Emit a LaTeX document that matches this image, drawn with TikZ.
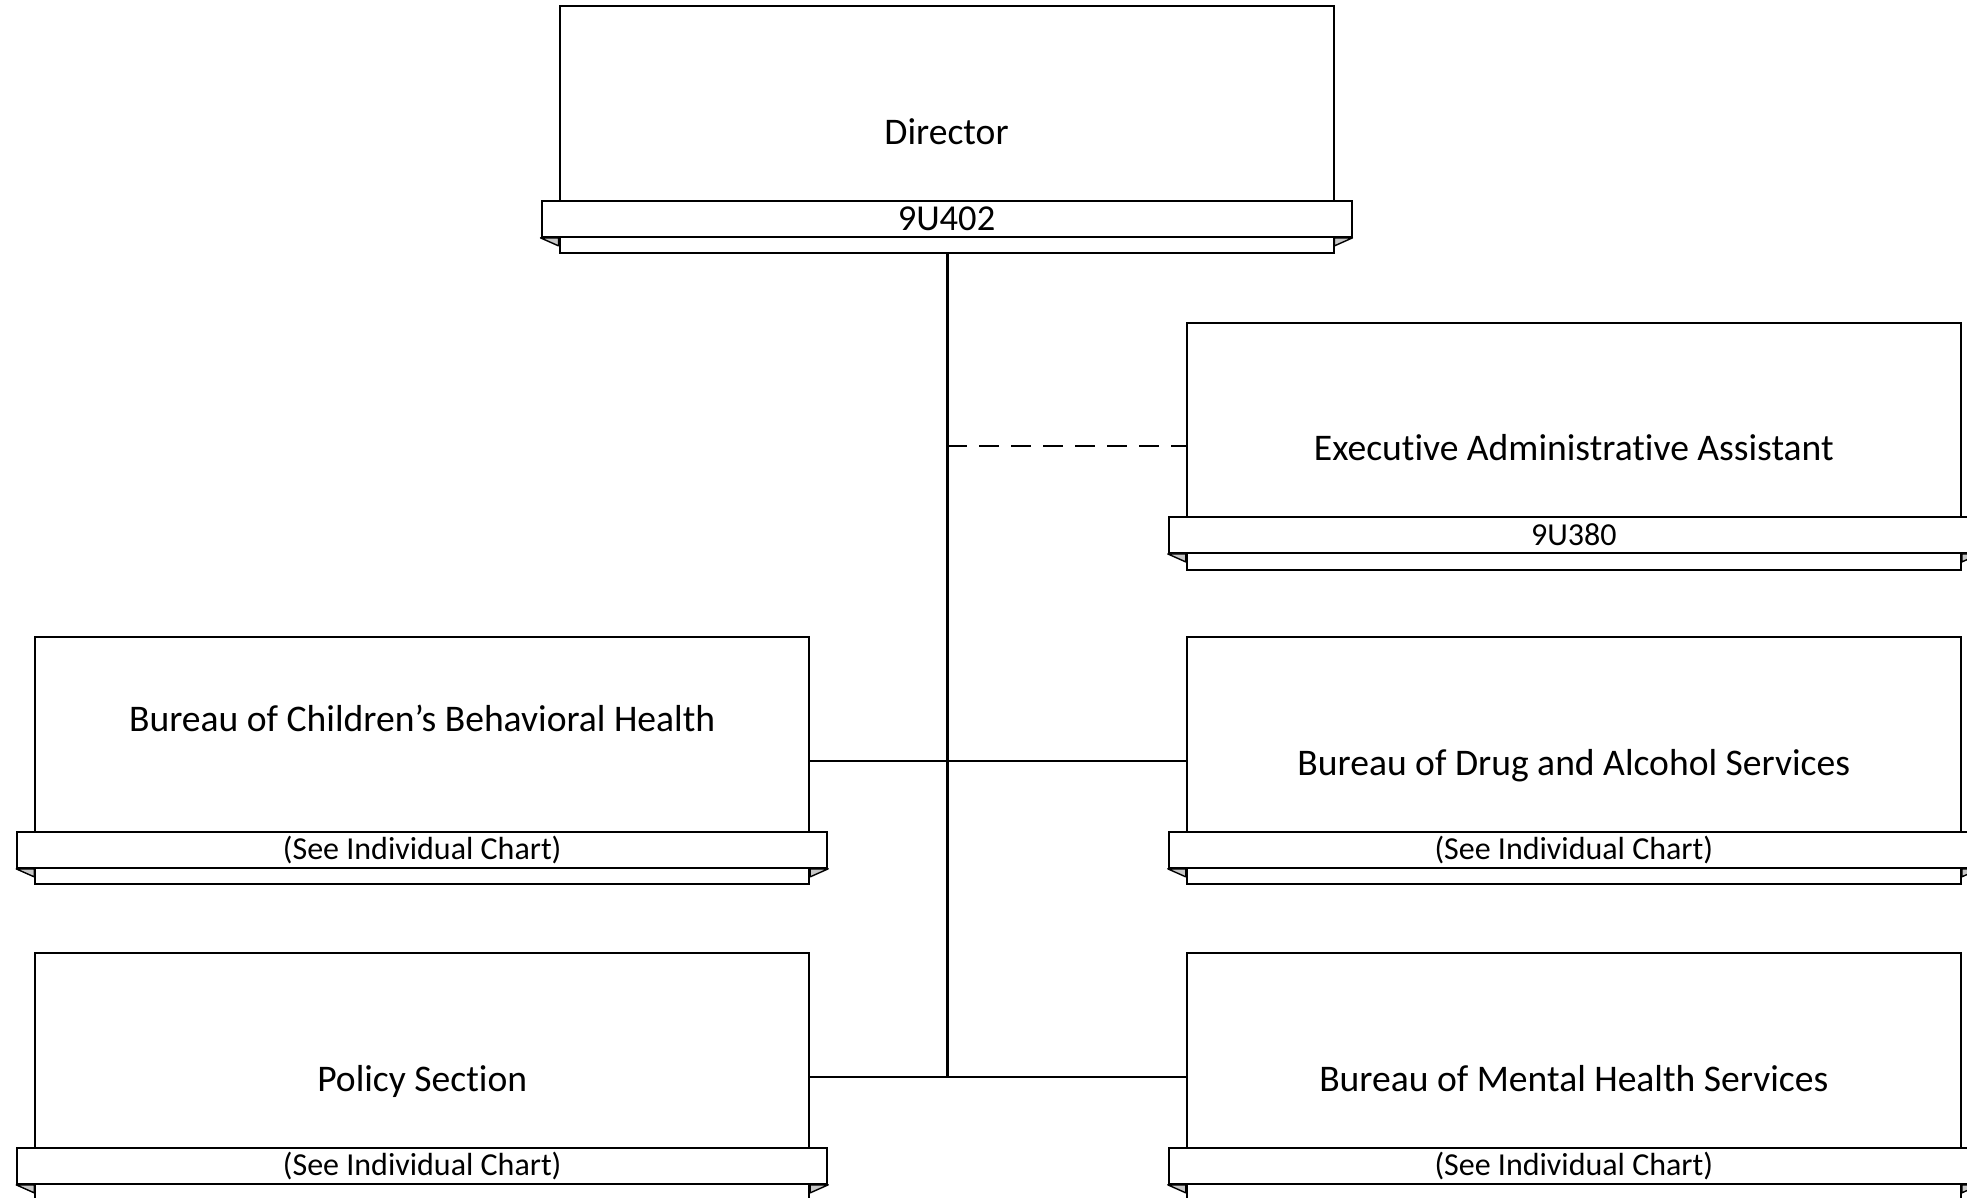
\documentclass[tikz,border=0pt]{standalone}
\usepackage{fontspec}
\setmainfont{Carlito}[Ligatures=NoCommon]
\usetikzlibrary{positioning}

\tikzset{
  unitbox/.style={draw, fill=white, line width=2pt, minimum width=774pt,
    minimum height=247pt, inner sep=0pt, text height=28.5pt, text depth=0pt,
    font=\fontsize{37.6}{45}\selectfont},
  tagbar/.style={draw, fill=white, line width=2pt, minimum width=810pt,
    minimum height=36.3pt, inner sep=0pt, font=\fontsize{32}{38}\selectfont},
  fold/.style={draw, fill=black!22, line width=1.4pt, line join=round},
  link/.style={line width=2.6pt},
}

\begin{document}
\begin{tikzpicture}[x=1pt,y=-1pt]
    \useasboundingbox (0,0) rectangle (1967,1198);
    \clip (0,0) rectangle (1967,1198);

    % connectors first, boxes on top
    \coordinate (top)  at (947,253.4);
    \coordinate (foot) at (947,1076.9);
    \coordinate (aide) at (947,446);
    \draw [link, line width=3pt] (top) -- (foot);

    \node [unitbox] (dir) at (946.5,129.9)  {Director};
    \node [unitbox] (eaa) at (1573.8,446)   {Executive Administrative Assistant};
    \node [unitbox] (cbh) at (422.2,760.9)  {\raisebox{43.5pt}{Bureau of Children’s Behavioral Health}};
    \node [unitbox] (dda) at (1573.8,760.9) {Bureau of Drug and Alcohol Services};
    \node [unitbox] (pol) at (422.2,1076.9) {Policy Section};
    \node [unitbox] (mhs) at (1573.8,1076.9){Bureau of Mental Health Services};

    \draw [link] (cbh.east) -- (dda.west);
    \draw [link] (pol.east) -- (mhs.west);
    \draw [link, dash pattern=on 20pt off 12pt] (aide) -- (eaa.west);

    \foreach \n/\t/\s in {dir/9U402/36.5, eaa/9U380/32, cbh/(See Individual Chart)/32,
                          dda/(See Individual Chart)/32, pol/(See Individual Chart)/32,
                          mhs/(See Individual Chart)/32}{%
        \node [tagbar, font=\fontsize{\s}{44}\selectfont] (\n tag) at ([yshift=35.7pt]\n.south) {\t};
        \draw [fold] (\n tag.south west) -- (\n.west |- \n tag.south)
              -- ([yshift=-8pt]\n.west |- \n tag.south) -- cycle;
        \draw [fold] (\n tag.south east) -- (\n.east |- \n tag.south)
              -- ([yshift=-8pt]\n.east |- \n tag.south) -- cycle;}
\end{tikzpicture}
\end{document}
